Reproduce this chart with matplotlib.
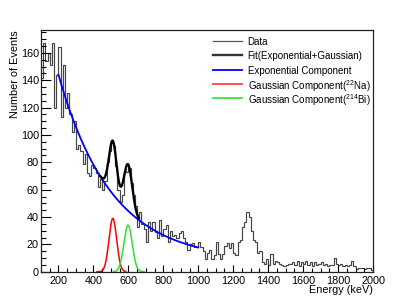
import numpy as np
import matplotlib
matplotlib.use("Agg")
import matplotlib.pyplot as plt
from matplotlib.lines import Line2D
from matplotlib.ticker import MultipleLocator

plt.rcParams['font.family'] = ['Liberation Sans', 'DejaVu Sans']
plt.rcParams['mathtext.fontset'] = 'custom'
plt.rcParams['mathtext.rm'] = 'Liberation Sans'
plt.rcParams['mathtext.it'] = 'Liberation Sans'
plt.rcParams['mathtext.default'] = 'regular'

# histogram: 12.5 keV bins from 100 to 2000 keV
bin_start = 100.0
bin_width = 12.5
counts = [
    142, 167, 154, 160, 151, 167, 120, 144,
    164, 113, 151, 120, 131, 115, 102, 110,
    90, 93, 88, 79, 86, 72, 70, 78,
    76, 72, 62, 68, 60, 66, 80, 88,
    94, 92, 77, 60, 51, 56, 74, 73,
    76, 65, 56, 48, 33, 44, 35, 31,
    22, 36, 30, 36, 29, 25, 38, 26,
    31, 34, 22, 30, 26, 27, 25, 28,
    30, 25, 22, 16, 20, 21, 18, 18,
    22, 18, 15, 9, 14, 16, 9, 12,
    22, 13, 9, 13, 19, 21, 17, 21,
    14, 12, 22, 23, 33, 36, 44, 40,
    30, 23, 22, 14, 15, 7, 6, 9,
    5, 13, 6, 8, 7, 6, 5, 4,
    5, 6, 6, 7, 5, 8, 4, 7,
    6, 8, 5, 7, 4, 7, 5, 6,
    7, 5, 6, 4, 5, 5, 10, 6,
    5, 6, 4, 5, 4, 5, 8, 4,
    2, 3, 3, 3, 2, 3, 3, 1,
]

# fit parameters (exponential + two gaussians)
exp_amp, exp_slope, exp_const = 136.0, 0.0033, 8.0
exp_range = (200, 1000)
na_amp, na_mean, na_sigma = 39.0, 511.0, 22.0
bi_amp, bi_mean, bi_sigma = 34.0, 598.0, 24.0
fit_range = (440, 660)
na_range = (420, 585)
bi_range = (515, 690)


def expo(e):
    return exp_amp * np.exp(-exp_slope * (e - exp_range[0])) + exp_const


def gaus(e, a, m, s):
    return a * np.exp(-0.5 * ((e - m) / s) ** 2)


def total(e):
    return expo(e) + gaus(e, na_amp, na_mean, na_sigma) + gaus(e, bi_amp, bi_mean, bi_sigma)


W, H = 415, 302
fig = plt.figure(figsize=(W / 100, H / 100), dpi=100)
ax = fig.add_axes([0.0988, 0.1003, 0.8, 0.8])

edges = bin_start + bin_width * np.arange(len(counts) + 1)
ax.stairs(counts, edges, baseline=None, color='#444444', lw=0.85)

e1 = np.linspace(*exp_range, 300)
ax.plot(e1, expo(e1), color='#0000ff', lw=1.3)
e2 = np.linspace(*fit_range, 300)
ax.plot(e2, total(e2), color='black', lw=1.7)
e3 = np.linspace(*na_range, 200)
ax.plot(e3, gaus(e3, na_amp, na_mean, na_sigma), color='#ff0000', lw=1.1)
e4 = np.linspace(*bi_range, 200)
ax.plot(e4, gaus(e4, bi_amp, bi_mean, bi_sigma), color='#33dd33', lw=1.1)

ax.set_xlim(100, 2000)
ax.set_ylim(0, 176.7)
ax.xaxis.set_major_locator(MultipleLocator(200))
ax.xaxis.set_minor_locator(MultipleLocator(50))
ax.yaxis.set_major_locator(MultipleLocator(20))
ax.yaxis.set_minor_locator(MultipleLocator(5))
ax.tick_params(axis='both', which='both', direction='in', labelsize=7.8,
               top=False, right=False, width=0.8, colors='black')
ax.tick_params(axis='x', which='major', length=5.3, pad=3)
ax.tick_params(axis='x', which='minor', length=2.6)
ax.tick_params(axis='y', which='major', length=7.2, pad=1.5)
ax.tick_params(axis='y', which='minor', length=3.6)
ax.set_xticks(np.arange(200, 2001, 200))
for sp in ax.spines.values():
    sp.set_linewidth(0.9)
    sp.set_color('#222222')

fig.text(373 / W, 1 - 290 / H, 'Energy (keV)', ha='right', va='center', fontsize=7.8)
fig.text(15 / W, 1 - 30 / H, 'Number of Events', ha='center', va='top',
         rotation=90, fontsize=7.8)

# legend drawn by hand so rows are evenly spaced
leg_colors = ['#555555', '#333333', '#0000ff', '#ff4444', '#44dd44']
leg_widths = [0.9, 1.7, 1.3, 1.3, 1.3]
leg_labels = ['Data', 'Fit(Exponential+Gaussian)', 'Exponential Component',
              'Gaussian Component($^{22}$Na)', 'Gaussian Component($^{214}$Bi)']
row_y = [40.7, 55.0, 69.5, 83.8, 98.2]
for c, lw, lab, y in zip(leg_colors, leg_widths, leg_labels, row_y):
    yf = 1 - y / H
    fig.add_artist(Line2D([213 / W, 242 / W], [yf, yf], color=c, lw=lw,
                          transform=fig.transFigure))
    fig.text(247.5 / W, yf, lab, ha='left', va='center_baseline', fontsize=7.0)

fig.savefig('out.png', dpi=100)
